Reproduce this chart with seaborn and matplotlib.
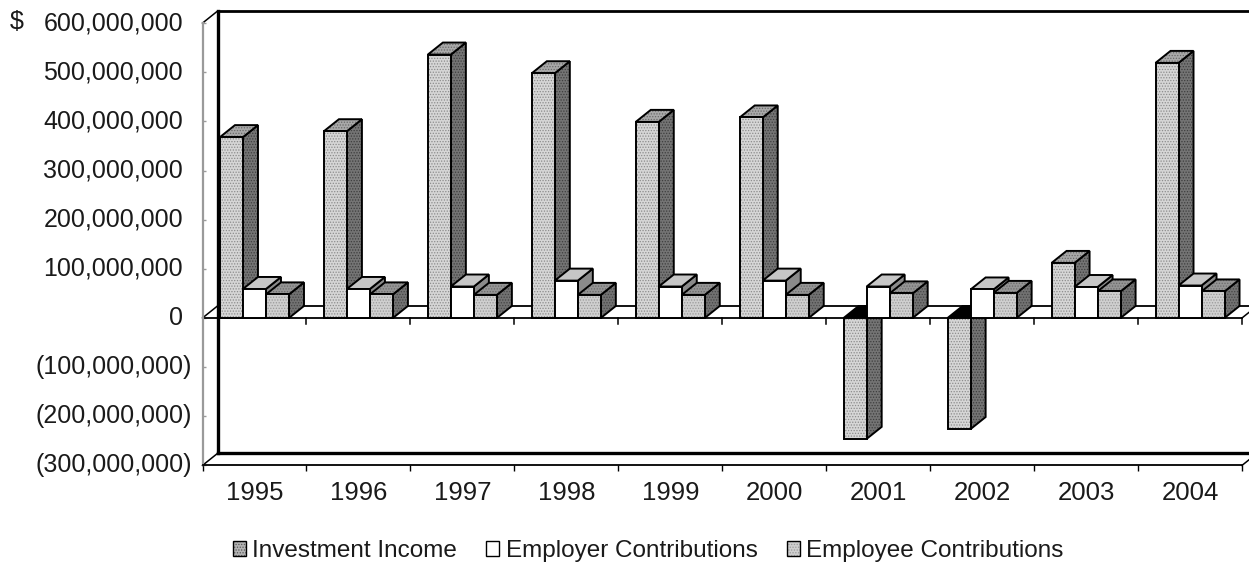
import numpy as np
import pandas as pd
import matplotlib
matplotlib.use("Agg")
import matplotlib.pyplot as plt
import matplotlib.transforms as mtransforms
from matplotlib.patches import Polygon, Patch
from matplotlib.legend_handler import HandlerTuple
import seaborn as sns

# ---- data -------------------------------------------------------------
years = ["1995", "1996", "1997", "1998", "1999", "2000", "2001", "2002", "2003", "2004"]
investment_income = [368e6, 380e6, 536e6, 498e6, 399e6, 408e6, -246e6, -226e6, 112e6, 519e6]
employer_contributions = [59e6, 59e6, 64e6, 76e6, 64e6, 76e6, 64e6, 58e6, 63e6, 66e6]
employee_contributions = [48e6, 48e6, 47e6, 47e6, 47e6, 47e6, 50e6, 51e6, 54e6, 54e6]
series_names = ["Investment Income", "Employer Contributions", "Employee Contributions"]
y_tick_values = np.arange(-300e6, 600e6 + 1, 100e6)

df = pd.DataFrame({
    "year": years * 3,
    "series": np.repeat(series_names, len(years)),
    "value": investment_income + employer_contributions + employee_contributions,
})

# face styles: (fill, stipple colour or None)
styles = {
    "Investment Income": {"front": ("#d6d6d6", "#8c8c8c"),
                          "top": ("#a9a9a9", "#6a6a6a"),
                          "side": ("#747474", "#3e3e3e")},
    "Employer Contributions": {"front": ("#ffffff", None),
                               "top": ("#c6c6c6", None),
                               "side": ("#8a8a8a", None)},
    "Employee Contributions": {"front": ("#cfcfcf", "#9a9a9a"),
                               "top": ("#959595", "#6a6a6a"),
                               "side": ("#727272", "#454545")},
}

# ---- figure -----------------------------------------------------------
sns.set_theme(style="white")
plt.rcParams["font.family"] = ["Liberation Sans", "DejaVu Sans"]
plt.rcParams["hatch.linewidth"] = 0.6

W, H = 1249, 565
fig = plt.figure(figsize=(W / 100, H / 100), dpi=100)
fig.patch.set_facecolor("white")
ax = fig.add_axes([202.5 / W, 1 - 465.4 / H, 1039.5 / W, 442.3 / H])
ax.set_facecolor("none")

sns.barplot(data=df, x="year", y="value", hue="series", order=years,
            hue_order=series_names, width=0.664, saturation=1,
            palette=[styles[s]["front"][0] for s in series_names],
            errorbar=None, legend=False, ax=ax)

ax.set_xlim(-0.5, 9.5)
ax.set_ylim(-300e6, 600e6)
ax.set_xlabel("")
ax.set_ylabel("")

# depth of the 3-D effect in pixels (right, up)
DX, DY = 15.0, 12.0
to_data = ax.transData.inverted()


def shifted(xd, yd, px=0.0, py=0.0):
    X, Y = ax.transData.transform((xd, yd))
    return tuple(to_data.transform((X + px, Y + py)))


def face(points, fill, stipple, z, lw=1.4):
    ax.add_patch(Polygon(points, closed=True, facecolor=fill, edgecolor="none",
                         linewidth=0, zorder=z, clip_on=False))
    if stipple:
        ax.add_patch(Polygon(points, closed=True, facecolor="none",
                             edgecolor=stipple, hatch="......", linewidth=0,
                             zorder=z + 0.0001, clip_on=False))
    ax.add_patch(Polygon(points, closed=True, fill=False, edgecolor="black",
                         linewidth=lw, joinstyle="miter", zorder=z + 0.0002,
                         clip_on=False))


# ---- walls and floor ----------------------------------------------------
ymin, ymax = -300e6, 600e6
xl, xr = -0.5, 9.5
line_kw = dict(color="black", clip_on=False, solid_capstyle="projecting")

# back wall
bl = shifted(xl, ymin, DX, DY)
tl = shifted(xl, ymax, DX, DY)
br = shifted(xr, ymin, DX, DY)
tr = shifted(xr, ymax, DX, DY)
ax.plot([bl[0], tl[0]], [bl[1], tl[1]], lw=2.4, zorder=1, **line_kw)
ax.plot([tl[0], tr[0]], [tl[1], tr[1]], lw=2.0, zorder=1, **line_kw)
ax.plot([bl[0], br[0]], [bl[1], br[1]], lw=2.4, zorder=1, **line_kw)
# diagonals joining the front frame to the back wall
for (x0, y0) in [(xl, ymax), (xl, ymin), (xr, ymin)]:
    p = shifted(x0, y0, DX, DY)
    ax.plot([x0, p[0]], [y0, p[1]], lw=1.1, zorder=1, **line_kw)

# zero plane
zb0 = shifted(xl, 0, DX, DY)
zb1 = shifted(xr, 0, DX, DY)
ax.plot([zb0[0], zb1[0]], [zb0[1], zb1[1]], lw=1.3, zorder=1.5, **line_kw)
ax.plot([xl, xr], [0, 0], lw=1.3, zorder=1.5, **line_kw)
ax.plot([xl, zb0[0]], [0, zb0[1]], lw=1.1, zorder=1.5, **line_kw)
ax.plot([xr, zb1[0]], [0, zb1[1]], lw=1.1, zorder=1.5, **line_kw)
for xb in np.arange(xl, xr + 0.01, 1.0):
    t = shifted(xb, 0, 0, -6)
    ax.plot([xb, xb], [0, t[1]], lw=1.1, zorder=1.5, **line_kw)

# ---- 3-D bars -----------------------------------------------------------
for si, (container, name) in enumerate(zip(ax.containers, series_names)):
    st = styles[name]
    for k, rect in enumerate(container):
        x0 = rect.get_x()
        x1 = x0 + rect.get_width()
        y0 = rect.get_y()
        y1 = y0 + rect.get_height()
        ybot, ytop = min(y0, y1), max(y0, y1)
        z = 3 + (k * 3 + si) * 0.01
        negative = y1 < y0

        side = [(x1, ybot), shifted(x1, ybot, DX, DY),
                shifted(x1, ytop, DX, DY), (x1, ytop)]
        top = [(x0, ytop), (x1, ytop),
               shifted(x1, ytop, DX, DY), shifted(x0, ytop, DX, DY)]
        front = [(x0, ybot), (x1, ybot), (x1, ytop), (x0, ytop)]

        face(side, *st["side"], z)
        if negative:
            face(top, "#000000", None, z + 0.001)
        else:
            face(top, *st["top"], z + 0.001)
        rect.set_visible(False)
        face(front, *st["front"], z + 0.002)

# ---- axes styling ------------------------------------------------------
for s in ["top", "right"]:
    ax.spines[s].set_visible(False)
ax.spines["left"].set_color("#9a9a9a")
ax.spines["left"].set_linewidth(1.6)
ax.spines["bottom"].set_color("black")
ax.spines["bottom"].set_linewidth(1.3)

ax.set_yticks(y_tick_values)
ax.tick_params(axis="y", which="major", direction="in", length=2.5,
               width=1, color="#9a9a9a", labelleft=False, left=True)

ax.set_xticks(np.arange(xl, xr + 0.01, 1.0))
ax.set_xticklabels([])
ax.set_xticks(np.arange(len(years)), minor=True)
ax.set_xticklabels(years, minor=True, fontsize=18.5, color="#1a1a1a")
ax.tick_params(axis="x", which="major", direction="out", length=4.5,
               width=1, color="black", bottom=True)
ax.tick_params(axis="x", which="minor", length=0, pad=11)

# y labels with accounting-style parentheses
ylab_tf = mtransforms.blended_transform_factory(fig.transFigure, ax.transData)
for v in y_tick_values:
    if v < 0:
        txt, xpos = "({:,.0f})".format(-v), 192 / W
    else:
        txt, xpos = "{:,.0f}".format(v), 183 / W
    ax.text(xpos, v, txt, transform=ylab_tf, ha="right", va="center",
            fontsize=18, color="#1a1a1a", clip_on=False)
fig.text(10 / W, 1 - 22 / H, "$", ha="left", va="center", fontsize=18,
         color="#1a1a1a")

# ---- legend -----------------------------------------------------------
handles = []
for name in series_names:
    fill, stipple = styles[name]["front"]
    if name == "Investment Income":
        fill, stipple = "#b4b4b4", "#5a5a5a"
    base = Patch(facecolor=fill, edgecolor=stipple if stipple else "none",
                 hatch="......" if stipple else None, linewidth=0)
    outline = Patch(fill=False, edgecolor="black", linewidth=1.0)
    handles.append((base, outline))

fig.legend(handles, series_names, loc="center", ncol=3,
           bbox_to_anchor=(648 / W, 1 - 551 / H), frameon=False, fontsize=17.5,
           handler_map={tuple: HandlerTuple(ndivide=1, pad=0)},
           handlelength=0.55, handleheight=0.55, handletextpad=0.25,
           columnspacing=1.2, labelcolor="#1a1a1a")

fig.savefig("out.png", dpi=100, facecolor="white")
